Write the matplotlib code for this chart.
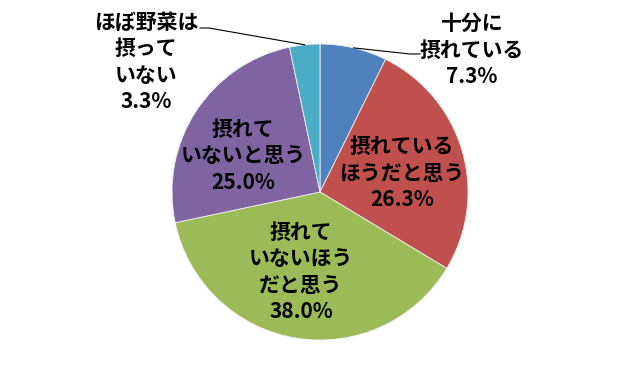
import numpy as np
import matplotlib
matplotlib.use("Agg")
import matplotlib.pyplot as plt

plt.rcParams['font.family'] = ['Noto Sans CJK JP', 'DejaVu Sans']

labels = ["十分に\n摂れている", "摂れている\nほうだと思う", "摂れて\nいないほう\nだと思う",
          "摂れて\nいないと思う", "ほぼ野菜は\n摂って\nいない"]
values = [7.3, 26.3, 38.0, 25.0, 3.3]
colors = ["#4F81BD", "#C0504D", "#9BBB59", "#8064A2", "#4BACC6"]

W, H = 640, 384
fig = plt.figure(figsize=(W / 100, H / 100), dpi=100)
ax = fig.add_axes([0, 0, 1, 1])

cx, cy, R = 320, 192, 148
wedges, _ = ax.pie(values, colors=colors, startangle=90, counterclock=False,
                   radius=R, center=(cx, H - cy), frame=True,
                   wedgeprops=dict(edgecolor='#f2f2f2', linewidth=0.6))
ax.set_xlim(0, W)
ax.set_ylim(0, H)
ax.set_aspect('equal')
ax.axis('off')

def fy(y):
    return H - y

# label centres (pixel coords, y from top)
label_pos = [(472, 50), (402, 173), (301, 272), (243, 156), (146, 62)]
fs = 15
for lab, v, (x, y) in zip(labels, values, label_pos):
    ax.text(x, fy(y), f"{lab}\n{v:.1f}%", ha='center', va='center', fontsize=fs,
            fontweight='bold', color='black', linespacing=1.33)

# leader lines for outside labels
def mid_point(i):
    w = wedges[i]
    ang = np.deg2rad((w.theta1 + w.theta2) / 2)
    return cx + R * np.cos(ang), fy(cy) + R * np.sin(ang)

sx, sy = mid_point(0)
ax.plot([sx, 410, 420], [sy, fy(54), fy(54)], color='black', lw=0.8)
sx, sy = mid_point(4)
ax.plot([sx, 209, 200], [sy, fy(28), fy(28)], color='black', lw=0.8)

fig.savefig("out.png", dpi=100)
